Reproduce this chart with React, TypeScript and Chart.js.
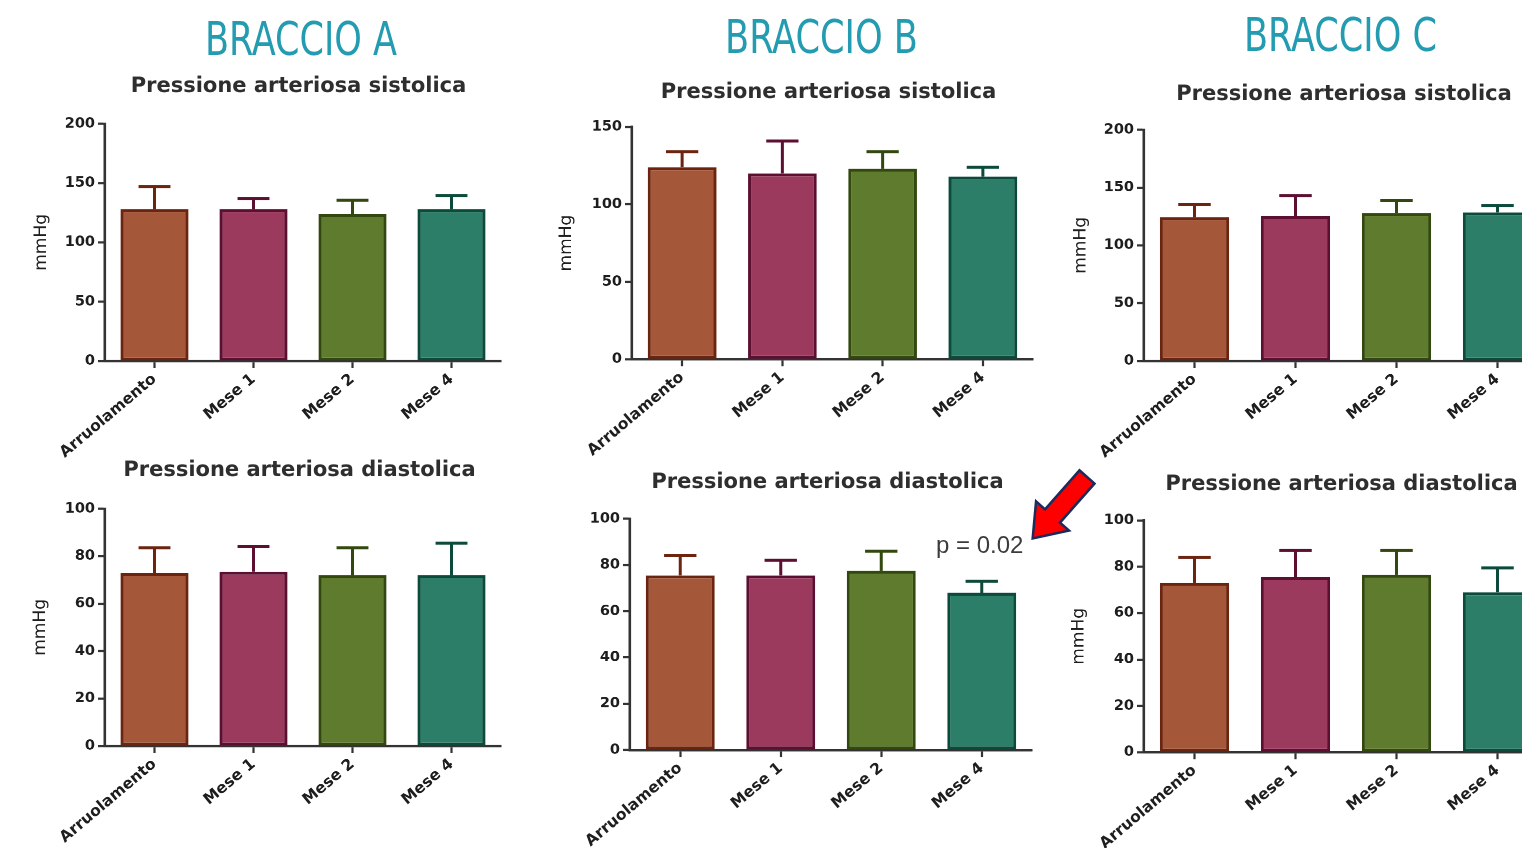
import React, { useEffect, useRef } from "react";
import { Chart, registerables } from "chart.js";

Chart.register(...registerables);

// ---------- data ----------
const categories = ["Arruolamento", "Mese 1", "Mese 2", "Mese 4"];
const fillColors = ["#a5573a", "#9c3a5e", "#5f7b2d", "#2d7e69"];
const borderColors = ["#6b2410", "#5c0f31", "#32480f", "#0c4a3b"];

const armTitles = ["BRACCIO A", "BRACCIO B", "BRACCIO C"];
const systolicTitle = "Pressione arteriosa sistolica";
const diastolicTitle = "Pressione arteriosa diastolica";
const yAxisLabel = "mmHg";
const pValueLabel = "p = 0.02";

// systolic means and SD (upper error)
const sysA = [128, 128, 124, 128];
const sysAErr = [19, 9, 11.5, 11.5];
const sysB = [124, 120, 123, 118];
const sysBErr = [10, 21, 11, 6];
const sysC = [124.5, 125.5, 128, 128.5];
const sysCErr = [11, 17.5, 11, 6];

// diastolic means and SD (upper error)
const diaA = [73, 73.5, 72, 72];
const diaAErr = [10.5, 10.5, 11.5, 13.5];
const diaB = [75.5, 75.5, 77.5, 68];
const diaBErr = [8.5, 6.5, 8.5, 5];
const diaC = [73, 75.5, 76.5, 69];
const diaCErr = [11, 11.5, 10.5, 10.5];

// y axis tick ranges
const sysYMax = [200, 150, 200];
const sysYStep = 50;
const diaYMax = [100, 100, 100];
const diaYStep = 20;

// ---------- error bar plugin ----------
const errorBarPlugin = {
  id: "errorBars",
  afterDatasetsDraw(chart: any, _args: any, opts: any) {
    const errs: number[] = opts.errors || [];
    const yScale = chart.scales.y;
    const ctx = chart.ctx;
    chart.data.datasets.forEach((ds: any, di: number) => {
      const meta = chart.getDatasetMeta(di);
      meta.data.forEach((bar: any, i: number) => {
        const v = ds.data[i];
        const e = errs[i];
        if (e == null) return;
        const yBar = yScale.getPixelForValue(v);
        const yTop = yScale.getPixelForValue(v + e);
        const capW = bar.width * 0.47;
        ctx.save();
        ctx.strokeStyle = borderColors[i];
        ctx.lineWidth = 3;
        ctx.lineCap = "butt";
        ctx.beginPath();
        ctx.moveTo(bar.x, yBar);
        ctx.lineTo(bar.x, yTop);
        ctx.moveTo(bar.x - capW / 2, yTop);
        ctx.lineTo(bar.x + capW / 2, yTop);
        ctx.stroke();
        ctx.restore();
      });
    });
  },
};

// ---------- layout ----------
type PanelDef = {
  title: string;
  values: number[];
  errors: number[];
  yMax: number;
  yStep: number;
  plotLeft: number;
  plotW: number;
  plotTop: number;
  plotBottom: number;
  titleCx: number;
  titleCy: number;
  yTitleX: number | null;
};

const panels: PanelDef[] = [
  { title: systolicTitle, values: sysA, errors: sysAErr, yMax: sysYMax[0], yStep: sysYStep, plotLeft: 105, plotW: 396, plotTop: 124, plotBottom: 360.7, titleCx: 298.5, titleCy: 87, yTitleX: 41.6 },
  { title: systolicTitle, values: sysB, errors: sysBErr, yMax: sysYMax[1], yStep: sysYStep, plotLeft: 632, plotW: 401, plotTop: 127.3, plotBottom: 359.3, titleCx: 828.5, titleCy: 93, yTitleX: 566.5 },
  { title: systolicTitle, values: sysC, errors: sysCErr, yMax: sysYMax[2], yStep: sysYStep, plotLeft: 1143.5, plotW: 404, plotTop: 130, plotBottom: 360.7, titleCx: 1343.5, titleCy: 95, yTitleX: 1080.5 },
  { title: diastolicTitle, values: diaA, errors: diaAErr, yMax: diaYMax[0], yStep: diaYStep, plotLeft: 105, plotW: 396, plotTop: 509, plotBottom: 745.7, titleCx: 299.5, titleCy: 471, yTitleX: 40.5 },
  { title: diastolicTitle, values: diaB, errors: diaBErr, yMax: diaYMax[1], yStep: diaYStep, plotLeft: 629.5, plotW: 402, plotTop: 519, plotBottom: 750, titleCx: 827, titleCy: 483, yTitleX: null },
  { title: diastolicTitle, values: diaC, errors: diaCErr, yMax: diaYMax[2], yStep: diaYStep, plotLeft: 1143.5, plotW: 404, plotTop: 520.7, plotBottom: 752.3, titleCx: 1341, titleCy: 485, yTitleX: 1078.5 },
];

const FONT = "'DejaVu Sans', 'Liberation Sans', sans-serif";

function Panel({ p }: { p: PanelDef }) {
  const ref = useRef<HTMLCanvasElement>(null);
  const yW = 80;
  const xH = 115;
  const titleSize = 21;
  const tLH = titleSize * 1.2;
  const canvasLeft = p.plotLeft - yW;
  const plotRight = p.plotLeft + p.plotW;
  const y2W = 2 * p.titleCx - canvasLeft - plotRight;
  const canvasW = yW + p.plotW + y2W;
  const canvasTop = p.titleCy - tLH / 2;
  const titlePadBottom = p.plotTop - canvasTop - tLH;
  const canvasH = p.plotBottom - canvasTop + xH;
  const yTitleSize = 17;
  const yTitlePad = p.yTitleX != null ? p.yTitleX - canvasLeft - (yTitleSize * 1.2) / 2 : 0;

  useEffect(() => {
    if (!ref.current) return;
    const axisGrid = {
      display: true,
      drawOnChartArea: false,
      drawTicks: true,
      tickLength: 7,
      tickColor: "#333",
      tickWidth: 2.2,
      offset: false,
    };
    const axisBorder = { display: true, color: "#333", width: 2.6 };
    const chart = new Chart(ref.current, {
      type: "bar",
      data: {
        labels: categories,
        datasets: [
          {
            data: p.values,
            backgroundColor: fillColors,
            borderColor: borderColors,
            borderWidth: 3,
            borderSkipped: false,
            barPercentage: 0.685,
            categoryPercentage: 1,
          },
        ],
      },
      options: {
        responsive: true,
        maintainAspectRatio: false,
        animation: false,
        devicePixelRatio: 2,
        layout: { padding: 0 },
        plugins: {
          legend: { display: false },
          tooltip: { enabled: false },
          title: {
            display: true,
            text: p.title,
            color: "#2e2e2e",
            font: { family: FONT, size: titleSize, weight: "bold", lineHeight: 1.2 },
            padding: { top: 0, bottom: titlePadBottom },
          },
          errorBars: { errors: p.errors },
        } as any,
        scales: {
          x: {
            grid: axisGrid,
            border: axisBorder,
            ticks: {
              color: "#1e1e1e",
              font: { family: FONT, size: 15.5, weight: "bold" },
              minRotation: 40,
              maxRotation: 40,
              autoSkip: false,
              padding: 2,
            },
            afterFit: (s: any) => {
              s.height = xH;
            },
          },
          y: {
            min: 0,
            max: p.yMax,
            grid: axisGrid,
            border: axisBorder,
            ticks: {
              stepSize: p.yStep,
              color: "#1e1e1e",
              font: { family: FONT, size: 14.5, weight: "bold" },
              padding: 3,
            },
            title: {
              display: p.yTitleX != null,
              text: yAxisLabel,
              color: "#1e1e1e",
              font: { family: FONT, size: yTitleSize, lineHeight: 1.2 },
              padding: { top: yTitlePad, bottom: 0 },
            },
            afterFit: (s: any) => {
              s.width = yW;
            },
          },
          y2: {
            type: "linear",
            position: "right",
            display: true,
            grid: { display: false },
            border: { display: false },
            ticks: { display: false },
            afterFit: (s: any) => {
              s.width = y2W;
            },
          },
        } as any,
      },
      plugins: [errorBarPlugin],
    });
    return () => chart.destroy();
  }, []);

  return (
    <div
      style={{
        position: "absolute",
        left: canvasLeft,
        top: canvasTop,
        width: canvasW,
        height: canvasH,
      }}
    >
      <canvas ref={ref} />
    </div>
  );
}

const armX = [205, 725, 1244];
const armBaseline = [55, 53, 51];
const armLen = [192, 193, 193];

export default function App() {
  return (
    <div
      style={{
        position: "absolute",
        left: 0,
        top: 0,
        width: 1522,
        height: 848,
        overflow: "hidden",
        background: "#ffffff",
      }}
    >
      {panels.map((p, i) => (
        <Panel key={i} p={p} />
      ))}
      <svg
        width={1522}
        height={848}
        style={{ position: "absolute", left: 0, top: 0, pointerEvents: "none" }}
      >
        {armTitles.map((t, i) => (
          <text
            key={t}
            x={armX[i]}
            y={armBaseline[i]}
            textLength={armLen[i]}
            lengthAdjust="spacingAndGlyphs"
            fontFamily="'Liberation Sans Narrow', 'DejaVu Sans Condensed', 'DejaVu Sans', sans-serif"
            fontSize={46}
            fill="#239bb0"
          >
            {t}
          </text>
        ))}
        <text
          x={936}
          y={553}
          fontFamily="'Liberation Sans', Arial, sans-serif"
          fontSize={24}
          fill="#3b3b3b"
        >
          {pValueLabel}
        </text>
        <g transform="translate(1087 477) rotate(131.5)">
          <polygon
            points="0,-10 52,-10 52,-22 82,0 52,22 52,10 0,10"
            fill="#ff0000"
            stroke="#1c2a5c"
            strokeWidth={2.5}
            strokeLinejoin="miter"
          />
        </g>
      </svg>
    </div>
  );
}
